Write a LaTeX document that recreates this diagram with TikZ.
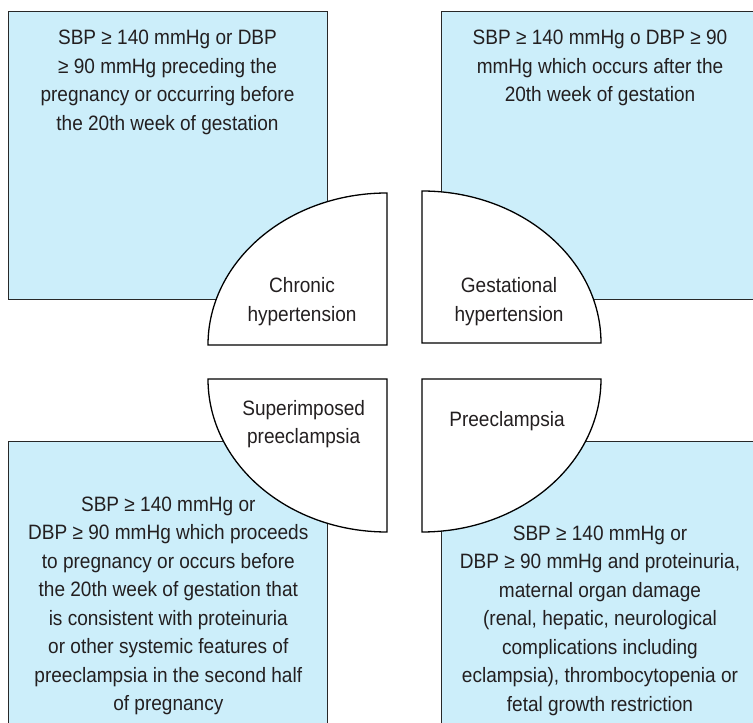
\documentclass[tikz,border=0pt]{standalone}
\usepackage{fontspec}
\setmainfont{Liberation Sans}[FakeStretch=0.915]
\definecolor{boxblue}{RGB}{204,238,250}
\definecolor{txt}{RGB}{35,31,32}
\definecolor{edge}{RGB}{40,40,40}
\tikzset{
  infobox/.style={fill=boxblue, draw=edge, line width=0.9pt},
  quarter/.style={fill=white, draw=black, line width=1.3pt, line join=miter},
  lbl/.style={inner sep=0pt, align=center, text=txt, anchor=north,
    font=\fontsize{20.8}{28.5}\selectfont}
}
\begin{document}
\begin{tikzpicture}[x=1pt,y=1pt]
\useasboundingbox (0,0) rectangle (753,723);
\fill[white] (0,0) rectangle (753,723);
\clip (0,0) rectangle (753,723);
% blue boxes
\path[infobox] (8,712) rectangle (327,424);
\path[infobox] (441,712) rectangle (765,424);
\path[infobox] (8,282) rectangle (327,-12);
\path[infobox] (441,282) rectangle (765,-12);
% quarter shapes
\path[quarter] (387,378) -- (387,530) arc[start angle=90, end angle=180, x radius=179, y radius=152] -- cycle;
\path[quarter] (422,380) -- (422,532) arc[start angle=90, end angle=0, x radius=179, y radius=152] -- cycle;
\path[quarter] (387,344) -- (208,344) arc[start angle=180, end angle=270, x radius=179, y radius=153] -- cycle;
\path[quarter] (422,344) -- (601,344) arc[start angle=0, end angle=-90, x radius=179, y radius=153] -- cycle;
% texts
\node[lbl] (tl) at (167.5,693) {SBP ≥ 140 mmHg or DBP\\≥ 90 mmHg preceding the\\pregnancy or occurring before\\the 20th week of gestation};
\node[lbl] (tr) at (600,693) {SBP ≥ 140 mmHg o DBP ≥ 90\\mmHg which occurs after the\\20th week of gestation};
\node[lbl] (ch) at (302,445.3) {Chronic\\hypertension};
\node[lbl] (gh) at (509,445.3) {Gestational\\hypertension};
\node[lbl] (sp) at (303.7,323) {Superimposed\\preeclampsia};
\node[lbl] (pe) at (507,311.3) {Preeclampsia};
\node[lbl] (bl) at (168.3,226.3) {SBP ≥ 140 mmHg or\\DBP ≥ 90 mmHg which proceeds\\to pregnancy or occurs before\\the 20th week of gestation that\\is consistent with proteinuria\\or other systemic features of\\preeclampsia in the second half\\of pregnancy};
\node[lbl] (br) at (600,197.3) {SBP ≥ 140 mmHg or\\DBP ≥ 90 mmHg and proteinuria,\\maternal organ damage\\(renal, hepatic, neurological\\complications including\\eclampsia), thrombocytopenia or\\fetal growth restriction};
\end{tikzpicture}
\end{document}
